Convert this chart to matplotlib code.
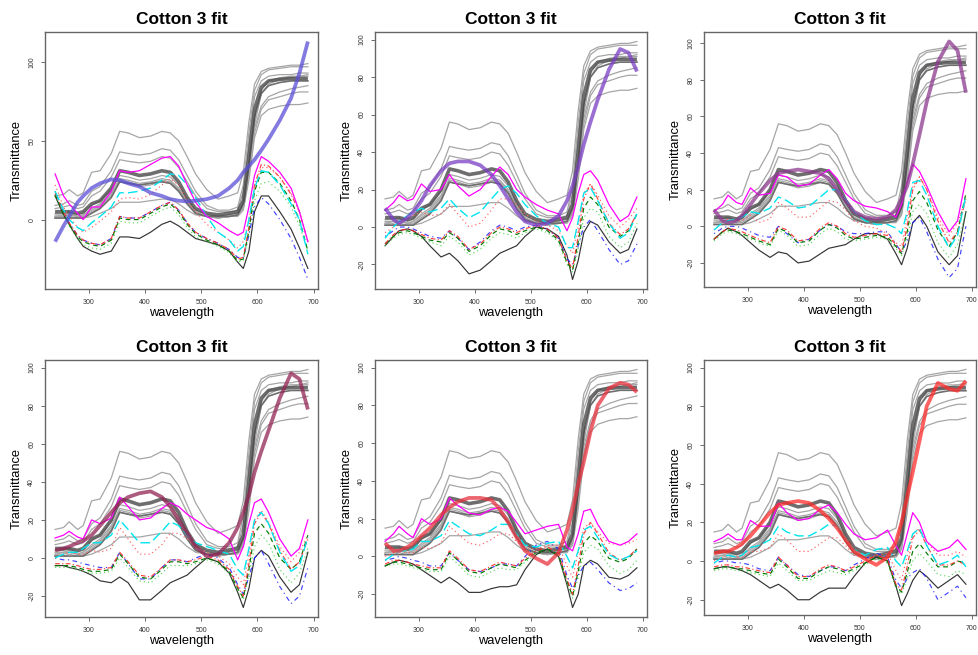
import matplotlib
matplotlib.use("Agg")
import matplotlib.pyplot as plt

plt.rcParams["font.family"] = ["Liberation Sans", "DejaVu Sans"]
plt.rcParams["axes.unicode_minus"] = False

# ---------------- data ----------------
wavelength = [240, 255, 265, 280, 290, 305, 320, 340, 355, 370, 390, 410, 430, 445, 460,
              475, 490, 510, 530, 550, 565, 575, 585, 595, 607, 620, 640, 660, 675, 690]

# measured spectra (same in every panel)
gray1 = [15, 16, 19, 15, 17, 30, 31, 42, 56, 55, 52, 53, 56, 55, 50, 40, 29, 19, 13, 15, 17, 30, 62, 86, 94, 96, 97, 98, 98, 99]
gray2 = [9, 10, 12, 9, 10, 18, 21, 31, 43, 42, 41, 42, 45, 44, 38, 28, 18, 9, 6, 6, 8, 22, 55, 82, 92, 95, 96, 97, 97, 97]
gray3 = [7, 8, 9, 7, 8, 15, 18, 27, 38, 37, 36, 37, 40, 39, 33, 24, 15, 7, 5, 5, 6, 18, 50, 78, 88, 91, 92, 92, 93, 93]
gray4 = [4, 4, 5, 3, 4, 9, 12, 19, 28, 27, 25, 26, 28, 27, 22, 13, 6, 3, 2, 3, 4, 10, 35, 65, 82, 88, 90, 91, 91, 92]
gray5 = [3, 3, 4, 2, 3, 7, 10, 17, 26, 25, 23, 24, 26, 25, 20, 12, 5, 2, 2, 2, 3, 8, 30, 58, 72, 78, 81, 83, 84, 85]
gray6 = [2, 3, 3, 2, 3, 6, 9, 16, 25, 24, 22, 23, 25, 24, 19, 11, 5, 2, 1, 2, 3, 7, 28, 55, 70, 76, 78, 80, 81, 81]
gray7 = [2, 2, 3, 2, 2, 5, 8, 15, 24, 23, 21, 22, 24, 23, 18, 10, 4, 2, 1, 2, 2, 6, 25, 52, 66, 70, 72, 73, 73, 74]
gray8 = [1, 1, 2, 1, 1, 2, 4, 7, 11, 11, 11, 12, 13, 13, 10, 6, 3, 2, 1, 2, 3, 8, 30, 60, 80, 86, 89, 90, 91, 91]
gray_dark = [1, 1, 1, 1, 1, 4, 7, 14, 24, 23, 22, 23, 24, 23, 18, 10, 4, 2, 2, 2, 3, 10, 35, 65, 80, 85, 87, 88, 88, 88]
gray_mean = [5, 5, 5, 4, 5, 10, 12, 20, 31, 30, 28, 29, 31, 30, 24, 14, 7, 4, 3, 4, 5, 12, 40, 70, 84, 88, 89, 89.5, 89.5, 89.5]

# panel 1
magenta_1 = [29, 15, 10, 4, 0, 8, 8, 18, 31, 30, 31, 35, 39, 40, 34, 22, 11, 2, -2, -7, -10, -8, 8, 28, 40, 37, 30, 20, 5, -14]
cyan_1 = [18, 6, 0, -5, -7, -2, 2, 8, 17, 17, 18, 20, 25, 29, 28, 22, 14, 2, -8, -13, -20, -17, 0, 20, 31, 30, 22, 10, 0, -22]
reddot_1 = [22, 8, 2, -5, -8, -5, -1, 5, 13, 14, 13, 16, 22, 26, 22, 12, 5, -3, -8, -13, -18, -14, 0, 20, 33, 33, 27, 17, 5, -14]
red_1 = [17, 5, -2, -10, -13, -15, -16, -12, 2, 1, 1, 5, 9, 11, 6, -2, -8, -12, -15, -19, -25, -24, -5, 22, 35, 34, 27, 16, 5, -14]
dkgreen_1 = [16, 4, -3, -11, -14, -16, -17, -13, 1, 0, 0, 4, 8, 10, 5, -3, -9, -13, -16, -20, -26, -25, -7, 18, 30, 30, 23, 12, 0, -20]
lgreen_1 = [15, 3, -4, -12, -16, -18, -19, -15, -1, -2, -2, 2, 6, 8, 3, -5, -11, -14, -17, -21, -27, -26, -9, 12, 23, 24, 18, 8, -4, -20]
blue_1 = [18, 5, -2, -10, -13, -15, -16, -12, 2, 1, 1, 5, 9, 11, 6, -2, -8, -12, -15, -19, -24, -24, -10, 8, 14, 10, 0, -12, -24, -38]
black_1 = [15, 3, -3, -12, -17, -20, -22, -20, -11, -11, -12, -8, -3, -1, -4, -8, -12, -14, -16, -20, -27, -31, -20, 5, 15, 15, 5, -6, -18, -31]
fit_1 = [-14, -4, 2, 11, 15, 20, 23, 25.5, 25, 23, 21, 17, 15, 13, 12, 11.5, 12, 13, 15, 20, 25, 30, 34, 38, 44, 51, 63, 77, 93, 113]

# panel 2
magenta_2 = [9, 13, 17, 14, 15, 23, 19, 20, 28, 22, 16.5, 20, 27, 32, 28, 20, 16, 12, 9, 7, -2, 5, 18, 28, 30, 25, 12, 3, 6, 16]
cyan_2 = [-6, 0, 3, 6, 8, 10, 8, 10, 15, 10, 5, 8, 15, 20, 22, 18, 12, 6, 2, 0, -11, -11, 3, 18, 21, 14, 2, -6, -3, 7]
reddot_2 = [-3, 0, 2, 5, 6, 8, 6, 7, 12, 7, 0, 2, 9, 15, 15, 12, 7, 3, 1, -2, -10, -14, 0, 18, 23, 17, 6, 0, 4, 10]
red_2 = [-9, -4, -2, -1, -2, -4, -6, -7, -2, -5, -12, -9, -3, 0, -1, -3, -1, 1, -1, -6, -18, -22, -5, 15, 23, 15, 2, -4, -1, 7]
dkgreen_2 = [-9, -5, -3, -2, -3, -5, -7, -8, -3, -6, -13, -10, -4, -1, -2, -4, -2, 0, -2, -7, -19, -23, -8, 10, 16, 12, 0, -5, -2, 7]
lgreen_2 = [-10, -6, -4, -3, -4, -6, -8, -10, -5, -8, -15, -12, -6, -3, -4, -6, -3, -1, -3, -8, -20, -24, -12, 5, 10, 8, -5, -11, -8, 2]
blue_2 = [-5, -2, 0, 0, -1, -3, -5, -6, -2, -6, -12, -8, -2, 1, 0, -2, 0, 1, -1, -6, -17, -20, -10, 0, 4, -2, -12, -20, -18, -9]
black_2 = [-10, -5, -2, -1, -2, -5, -10, -16, -14, -18, -25, -23, -18, -14, -12, -10, -5, 0, -1, -5, -15, -28, -18, -3, 3, 1, -8, -14, -12, -1]
fit_2 = [10, 4, 2, 5, 8, 14, 22, 30, 34, 35, 35, 33, 28, 22, 15, 8, 3, 1, 2, 6, 14, 22, 32, 44, 56, 68, 84, 95, 93, 83]

# panel 3
magenta_3 = [8, 12, 17, 13, 12, 21, 17, 18, 28, 27, 22, 23, 28, 31, 26, 18, 14, 11, 10, 8, 5, 12, 24, 34, 30, 22, 8, -3, 3, 26]
cyan_3 = [-2, 2, 3, 4, 5, 8, 7, 10, 16, 14, 10, 11, 16, 20, 20, 15, 8, 3, 1, 1, -1, -4, 8, 24, 25, 17, 0, -12, -5, 17]
reddot_3 = [-2, 2, 4, 3, 3, 6, 2, 4, 13, 10, 5, 5, 10, 14, 13, 9, 3, 0, -1, -4, -9, -11, 5, 22, 27, 20, 5, -5, 2, 15]
red_3 = [-7, -3, -1, -2, -3, -5, -7, -9, 0, -2, -8, -7, -1, 2, 0, -4, -6, -5, -4, -5, -10, -14, 0, 20, 27, 20, 3, -9, -3, 15]
dkgreen_3 = [-7, -3, -2, -3, -4, -6, -8, -10, -1, -3, -9, -8, -2, 1, -1, -5, -7, -6, -5, -6, -11, -15, -3, 14, 19, 13, -2, -11, -3, 18]
lgreen_3 = [-8, -4, -3, -4, -5, -7, -9, -11, -2, -5, -11, -10, -4, -1, -3, -7, -8, -7, -6, -7, -12, -16, -6, 8, 12, 7, -9, -17, -10, 8]
blue_3 = [-4, -1, 0, 0, -1, -3, -5, -6, 0, -4, -9, -7, -2, 1, 0, -3, -4, -4, -3, -3, -10, -14, -8, 2, 5, -3, -18, -28, -23, 0]
black_3 = [-7, -3, -1, -3, -5, -9, -13, -17, -14, -15, -20, -19, -15, -12, -11, -10, -7, -4, -4, -7, -15, -21, -12, 2, 6, 0, -14, -21, -16, 8]
fit_3 = [9, 3, 2, 3, 6, 12, 18, 25, 29, 30, 31, 30, 29, 26, 20, 14, 8, 5, 4, 5, 9, 15, 22, 34, 50, 68, 90, 101, 96, 73]

# panel 4
magenta_4 = [10.5, 12, 14, 11, 10, 20, 18, 21, 32, 27, 20, 21, 26, 29, 27, 23, 20, 16, 14, 10, -1, 6, 18, 29, 31, 24, 10, 1, 5, 20]
cyan_4 = [0, 2, 3, 3, 5, 8, 8, 12, 20, 15, 8, 8, 14, 19, 17, 12, 8, 6, 4, 2, -6, -9, 5, 20, 24, 18, 3, -7, -4, 11]
reddot_4 = [0, 2, 3, 2, 2, 4, 3, 5, 16, 10, 2, 2, 7, 13, 13, 10, 6, 3, 1, -3, -10, -14, 2, 20, 25, 19, 6, -2, 3, 12]
red_4 = [-3, -3, -3, -4, -5, -6, -6, -5, 3, -2, -9, -10, -5, -1, -1, -2, -1, 1, -1, -6, -15, -20, -3, 18, 24, 18, 4, -6, -2, 10]
dkgreen_4 = [-4, -4, -4, -5, -6, -7, -7, -6, 2, -3, -10, -11, -6, -2, -2, -3, -2, 0, -2, -7, -16, -21, -6, 13, 18, 13, 0, -6, -2, 12]
lgreen_4 = [-5, -5, -5, -6, -7, -8, -8, -7, 0, -5, -12, -13, -8, -4, -4, -4, -3, -1, -3, -8, -17, -22, -9, 6, 12, 8, -6, -13, -8, 5]
blue_4 = [0, -1, -1, -2, -3, -4, -5, -5, 3, -3, -11, -11, -5, -1, -1, -2, 0, 2, 0, -5, -14, -19, -10, 0, 4, -3, -15, -24, -20, -5]
black_4 = [-4, -4, -5, -6, -7, -9, -12, -13, -10, -13, -22, -22, -17, -13, -11, -9, -5, 0, -2, -8, -18, -26, -16, 0, 4, 1, -10, -18, -14, 3]
fit_4 = [4, 5, 6, 8, 9, 12, 17, 24, 29, 32, 34, 35, 32, 27, 20, 13, 6, 1, 2, 8, 16, 24, 33, 45, 56, 67, 84, 97, 94, 78]

# panel 5
magenta_5 = [8, 12, 16, 12, 10, 20, 17, 20, 31, 27, 23, 22, 25, 26, 24, 18, 12, 14, 16, 17, 5, 3, 12, 24, 25, 17, 8, 6, 8, 12]
cyan_5 = [-2, 1, 3, 3, 4, 8, 8, 11, 19, 16, 12, 11, 14, 17, 17, 12, 6, 5, 7, 8, 0, -6, 3, 14, 16, 10, 1, -2, 0, 3]
reddot_5 = [0, 2, 3, 2, 2, 5, 4, 7, 16, 12, 7, 6, 9, 12, 12, 8, 4, 4, 6, 6, -5, -11, 2, 15, 18, 13, 7, 6, 7, 9]
red_5 = [-4, -2, -2, -3, -4, -5, -6, -6, 3, -1, -7, -8, -5, -3, -4, -5, -1, 3, 5, 2, -12, -20, -5, 12, 18, 12, 2, -2, 0, 4]
dkgreen_5 = [-5, -3, -3, -4, -5, -6, -7, -7, 2, -2, -8, -9, -6, -4, -5, -6, -2, 2, 4, 1, -13, -21, -8, 7, 11, 8, -1, -3, -1, 4]
lgreen_5 = [-5, -4, -4, -5, -6, -7, -8, -8, 0, -4, -10, -11, -8, -6, -7, -7, -3, 1, 3, 0, -14, -22, -11, 2, 6, 4, -5, -9, -7, -2]
blue_5 = [-2, -1, 0, -1, -2, -3, -5, -5, 2, -2, -7, -8, -6, -4, -4, -5, 0, 6, 8, 4, -10, -17, -10, -5, -3, -7, -14, -18, -17, -14]
black_5 = [-5, -3, -2, -3, -4, -7, -10, -14, -11, -14, -19, -19, -17, -16, -16, -15, -7, 1, 4, 0, -15, -27, -20, -5, -2, -4, -11, -12, -10, -6]
fit_5 = [7, 3, 3, 5, 7, 11, 15, 22, 26, 29, 31, 31, 30, 25, 18, 10, 3, -1, -4, 2, 14, 25, 38, 50, 66, 80, 89, 92, 91, 87]

# panel 6
magenta_6 = [10, 12, 14, 11, 11, 21, 18, 18, 30, 25, 21, 22, 27, 29, 25, 19, 14, 11, 12, 16, 8, 3, 14, 25, 20, 10, 5, 7, 11, 6]
cyan_6 = [-1, 2, 3, 2, 3, 7, 8, 11, 18, 15, 13, 13, 16, 19, 18, 12, 6, 3, 6, 7, 0, -3, 5, 14, 17, 8, -2, 0, 3, -3]
reddot_6 = [0, 2, 3, 2, 2, 5, 5, 7, 14, 11, 5, 5, 9, 12, 12, 8, 3, 1, 3, 4, -5, -10, 3, 14, 17, 10, 3, 3, 5, 2]
red_6 = [-3, -2, -2, -3, -3, -4, -5, -6, 2, -2, -8, -8, -4, -2, -3, -5, -3, 0, 3, 1, -12, -15, -3, 12, 16, 8, -2, -2, 0, -2]
dkgreen_6 = [-4, -3, -3, -4, -4, -5, -6, -7, 1, -3, -9, -9, -5, -3, -4, -6, -4, -1, 2, 0, -13, -16, -6, 5, 9, 4, -3, -3, 0, -1]
lgreen_6 = [-5, -4, -4, -5, -5, -6, -7, -8, -1, -5, -10, -10, -7, -5, -6, -7, -5, -2, 1, -1, -14, -17, -9, 0, 4, 0, -7, -8, -5, -7]
blue_6 = [-1, 0, 0, -1, -1, -2, -4, -5, 2, -2, -7, -8, -5, -3, -3, -5, -2, 1, 4, 2, -10, -14, -9, -6, -4, -9, -20, -16, -13, -19]
black_6 = [-4, -3, -3, -4, -5, -7, -10, -14, -12, -15, -20, -20, -16, -14, -14, -14, -8, -1, 2, 0, -13, -23, -17, -10, -5, -8, -14, -10, -7, -12]
fit_6 = [4, 5, 5, 7, 9, 13, 18, 25, 29, 30, 31, 30, 26, 22, 17, 11, 5, 1, -2, 2, 10, 20, 33, 46, 62, 80, 92, 89, 88, 93]

title = "Cotton 3 fit"
x_ticks = [300, 400, 500, 600, 700]
y_ticks_first = [0, 50, 100]
y_ticks_other = [-20, 0, 20, 40, 60, 80, 100]

fit_colors = ["#5B4FD8", "#7A3EC2", "#8C3A8E", "#922454", "#E8323E", "#FF2B2B"]

panels = [
    dict(mag=magenta_1, cyan=cyan_1, reddot=reddot_1, red=red_1, dkg=dkgreen_1, lg=lgreen_1, blue=blue_1, blk=black_1, fit=fit_1),
    dict(mag=magenta_2, cyan=cyan_2, reddot=reddot_2, red=red_2, dkg=dkgreen_2, lg=lgreen_2, blue=blue_2, blk=black_2, fit=fit_2),
    dict(mag=magenta_3, cyan=cyan_3, reddot=reddot_3, red=red_3, dkg=dkgreen_3, lg=lgreen_3, blue=blue_3, blk=black_3, fit=fit_3),
    dict(mag=magenta_4, cyan=cyan_4, reddot=reddot_4, red=red_4, dkg=dkgreen_4, lg=lgreen_4, blue=blue_4, blk=black_4, fit=fit_4),
    dict(mag=magenta_5, cyan=cyan_5, reddot=reddot_5, red=red_5, dkg=dkgreen_5, lg=lgreen_5, blue=blue_5, blk=black_5, fit=fit_5),
    dict(mag=magenta_6, cyan=cyan_6, reddot=reddot_6, red=red_6, dkg=dkgreen_6, lg=lgreen_6, blue=blue_6, blk=black_6, fit=fit_6),
]
grays = [gray1, gray2, gray3, gray4, gray5, gray6, gray7, gray8]

# ---------------- layout ----------------
W, H = 979, 655
fig = plt.figure(figsize=(W / 100, H / 100), dpi=100)
fig.patch.set_facecolor("white")

boxes = [  # left, top, right, bottom in pixels
    (45, 32, 318, 289), (375, 32, 647, 289), (704, 32, 976, 287),
    (45, 360, 318, 617), (375, 360, 647, 617), (704, 360, 976, 615),
]

for i, (p, b) in enumerate(zip(panels, boxes)):
    l, t, r, bt = b
    ax = fig.add_axes([l / W, 1 - bt / H, (r - l) / W, (bt - t) / H])
    for g in grays:
        ax.plot(wavelength, g, color="#A6A6A6", lw=0.9, zorder=2)
    ax.plot(wavelength, gray_dark, color="#6E6E6E", lw=1.2, zorder=3)
    ax.plot(wavelength, gray_mean, color="#4A4A4A", lw=2.6, alpha=0.8, zorder=3,
            solid_capstyle="butt")
    lw = 0.85
    ax.plot(wavelength, p["blk"], color="#333333", lw=lw, zorder=4)
    ax.plot(wavelength, p["lg"], color="#33CC33", lw=lw, ls=(0, (1, 2.5)), alpha=0.8, zorder=4)
    ax.plot(wavelength, p["blue"], color="#2020FF", lw=lw, ls=(0, (1, 3, 4, 3)), alpha=0.85, zorder=4)
    ax.plot(wavelength, p["dkg"], color="#007A00", lw=lw, ls=(0, (4, 3)), zorder=4)
    ax.plot(wavelength, p["red"], color="#FF2020", lw=lw, ls=(0, (4, 2, 1, 2)), alpha=0.85, zorder=4)
    ax.plot(wavelength, p["reddot"], color="#FF6060", lw=lw, ls=(0, (1, 2.5)), zorder=4)
    ax.plot(wavelength, p["cyan"], color="#00E5EE", lw=1.0, ls=(0, (7, 3)), zorder=4)
    ax.plot(wavelength, p["mag"], color="#FF00FF", lw=0.9, zorder=4)
    ax.plot(wavelength, p["fit"], color=fit_colors[i], lw=2.7, alpha=0.75, zorder=5,
            solid_capstyle="butt")

    ax.margins(x=0.04, y=0.04)
    ax.set_xticks(x_ticks)
    ax.set_yticks(y_ticks_first if i == 0 else y_ticks_other)
    ax.tick_params(axis="both", length=3, width=0.6, color="#555555",
                   labelsize=5, labelcolor="#333333", pad=4)
    for lab in ax.get_yticklabels():
        lab.set_rotation(90)
        lab.set_va("center")
    for s in ax.spines.values():
        s.set_color("#666666")
        s.set_linewidth(1.0)
    ax.set_title(title, fontsize=12.5, fontweight="bold", pad=6)
    ax.text(-0.1026, 0.5, "Transmittance", rotation=90, ha="center", va="center",
            fontsize=9.3, transform=ax.transAxes)
    ax.text(0.5, -0.093, "wavelength", ha="center", va="center",
            fontsize=9.3, transform=ax.transAxes)

fig.savefig("out.png", dpi=100, facecolor="white")
